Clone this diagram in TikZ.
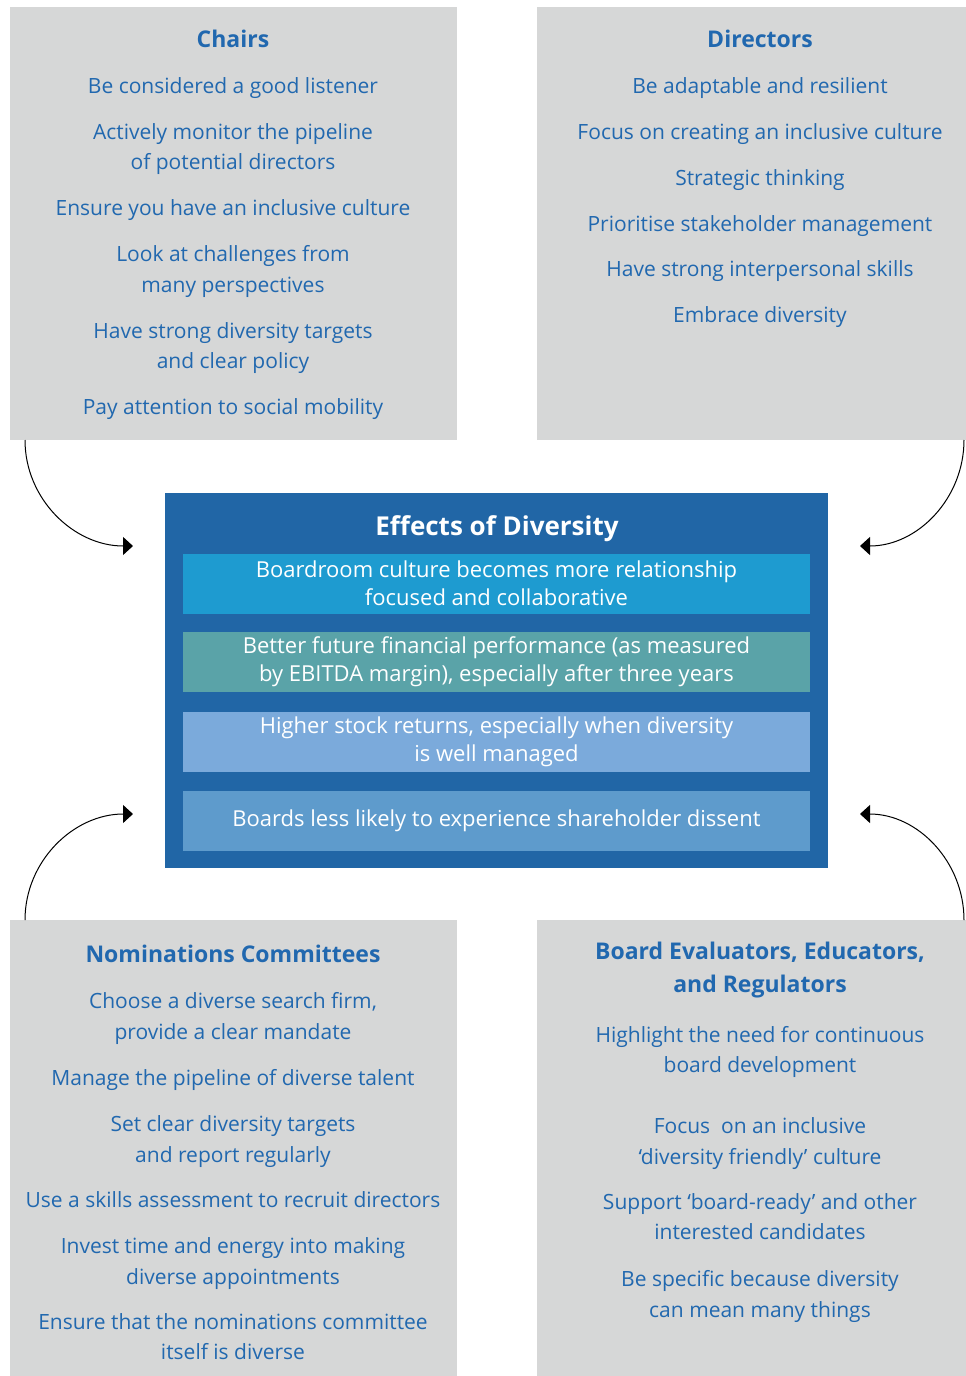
\documentclass[tikz,border=0pt]{standalone}
\usepackage{fontspec}
\setmainfont{Open Sans}
\usetikzlibrary{arrows.meta}
\definecolor{panelgrey}{HTML}{D6D7D7}
\definecolor{inkblue}{HTML}{2168AF}
\definecolor{effectblue}{HTML}{2166A6}
\definecolor{effA}{HTML}{1E9BD0}
\definecolor{effB}{HTML}{5AA3A8}
\definecolor{effC}{HTML}{7BAADB}
\definecolor{effD}{HTML}{5E9BCC}
\tikzset{
  panel/.style={fill=panelgrey, draw=none, inner sep=0pt},
  ptitle/.style={text=inkblue, font=\fontsize{23}{33}\selectfont\bfseries, align=center, inner sep=0pt},
  pitem/.style={text=inkblue, font=\fontsize{21}{30.5}\selectfont, align=center, inner sep=0pt},
  effbox/.style={draw=none, inner sep=0pt, minimum width=627pt, minimum height=60pt,
    text=white, font=\fontsize{22}{28}\selectfont, align=center},
  flow/.style={draw=black, line width=1pt, -{Triangle[length=10pt,width=18pt]}}
}
\begin{document}
\begin{tikzpicture}[x=1pt,y=-1pt]
\useasboundingbox (0,0) rectangle (966,1376);

% four grey panels
\node[panel, minimum width=447pt, minimum height=433pt] (chairs) at (233.5,223.5) {};
\node[panel, minimum width=429pt, minimum height=433pt] (directors) at (751.5,223.5) {};
\node[panel, minimum width=447pt, minimum height=456pt] (nominations) at (233.5,1148) {};
\node[panel, minimum width=429pt, minimum height=456pt] (evaluators) at (751.5,1148) {};

% Chairs
\node[ptitle] (chT) at (233,39) {Chairs};
\node[pitem] (ch1) at (233,88) {Be considered a good listener};
\node[pitem] (ch2) at (233,149) {Actively monitor the pipeline\\of potential directors};
\node[pitem] (ch3) at (233,210) {Ensure you have an inclusive culture};
\node[pitem] (ch4) at (233,271.5) {Look at challenges from\\many perspectives};
\node[pitem] (ch5) at (233,348) {Have strong diversity targets\\and clear policy};
\node[pitem] (ch6) at (233,409) {Pay attention to social mobility};

% Directors
\node[ptitle] (drT) at (760,39) {Directors};
\node[pitem] (dr1) at (760,88) {Be adaptable and resilient};
\node[pitem] (dr2) at (760,134) {Focus on creating an inclusive culture};
\node[pitem] (dr3) at (760,180) {Strategic thinking};
\node[pitem] (dr4) at (760,226) {Prioritise stakeholder management};
\node[pitem] (dr5) at (760,271) {Have strong interpersonal skills};
\node[pitem] (dr6) at (760,317) {Embrace diversity};

% Nominations Committees
\node[ptitle] (nmT) at (233,954) {Nominations Committees};
\node[pitem] (nm1) at (233,1018.5) {Choose a diverse search firm,\\provide a clear mandate};
\node[pitem] (nm2) at (233,1080) {Manage the pipeline of diverse talent};
\node[pitem] (nm3) at (233,1141.5) {Set clear diversity targets\\and report regularly};
\node[pitem] (nm4) at (233,1200) {Use a skills assessment to recruit directors};
\node[pitem] (nm5) at (233,1263.5) {Invest time and energy into making\\diverse appointments};
\node[pitem] (nm6) at (233,1336.5) {Ensure that the nominations committee\\itself is diverse};

% Board Evaluators, Educators, and Regulators
\node[ptitle] (evT) at (760,970.5) {Board Evaluators, Educators,\\and Regulators};
\node[pitem] (ev1) at (760,1052) {Highlight the need for continuous\\board development};
\node[pitem] (ev2) at (760,1143.5) {Focus~ on an inclusive\\‘diversity friendly’ culture};
\node[pitem] (ev3) at (760,1216.5) {Support ‘board-ready’ and other\\interested candidates};
\node[pitem] (ev4) at (760,1296.5) {Be specific because diversity\\can mean many things};

% central effects block
\node[fill=effectblue, draw=none, inner sep=0pt, minimum width=663pt, minimum height=375pt] (effects) at (496.5,680.5) {};
\node[text=white, font=\fontsize{26}{30}\selectfont\bfseries, inner sep=0pt] (effT) at (497,529) {Effects of Diversity};
\node[effbox, fill=effA] (eff1) at (496.5,583.5) {Boardroom culture becomes more relationship\\focused and collaborative};
\node[effbox, fill=effB] (eff2) at (496.5,662) {Better future financial performance (as measured\\by EBITDA margin), especially after three years};
\node[effbox, fill=effC] (eff3) at (496.5,741.5) {Higher stock returns, especially when diversity\\is well managed};
\node[effbox, fill=effD] (eff4) at (496.5,821) {Boards less likely to experience shareholder dissent};

% connector ends
\coordinate (chOut) at (25,440);
\coordinate (drOut) at (964,440);
\coordinate (nmOut) at (25,920);
\coordinate (evOut) at (964,920);
\coordinate (inTL) at (133,546);
\coordinate (inTR) at (860,546);
\coordinate (inBL) at (133,814);
\coordinate (inBR) at (860,814);

\draw[flow] (chOut) to[out=-90,in=180] (inTL);
\draw[flow] (drOut) to[out=-90,in=0] (inTR);
\draw[flow] (nmOut) to[out=90,in=180] (inBL);
\draw[flow] (evOut) to[out=90,in=0] (inBR);
\end{tikzpicture}
\end{document}
